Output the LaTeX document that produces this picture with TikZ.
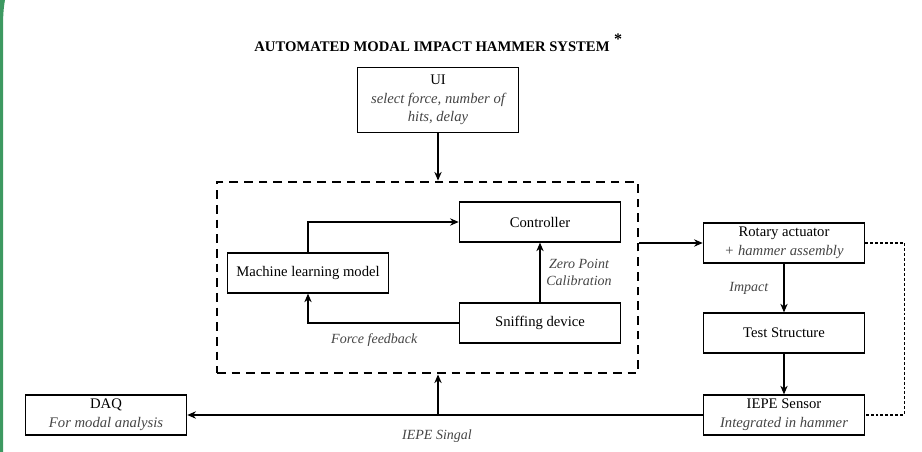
\documentclass[tikz,border=0pt]{standalone}
\usepackage{fontspec}
\setmainfont{Liberation Serif}
\usetikzlibrary{positioning,arrows.meta}
\definecolor{framegreen}{RGB}{61,153,97}
\definecolor{notegray}{RGB}{68,68,68}
\begin{document}
\begin{tikzpicture}[x=0.75pt,y=-0.75pt,
  block/.style={draw,line width=0.9pt,minimum width=121pt,minimum height=30pt,
    inner sep=1pt,align=center,font=\fontsize{11}{14}\selectfont},
  note/.style={font=\fontsize{10.5}{13}\selectfont\itshape,text=notegray,align=center},
  arr/.style={line width=0.9pt,-{Stealth[length=6.5pt,width=5.5pt]}},
  link/.style={line width=0.8pt,dash pattern=on 2.2pt off 1.5pt}]
\useasboundingbox (0,0) rectangle (922,452);

% Frame edge
\fill[framegreen] (0,0) -- (5,0) .. controls (3.5,8) and (3,16) .. (3,30) -- (3,452) -- (0,452) -- cycle;

% Title
\node[font=\fontsize{11}{13}\selectfont\bfseries,inner sep=0pt] (title) at (432,47) {AUTOMATED MODAL IMPACT HAMMER SYSTEM};
\node[font=\fontsize{12}{13}\selectfont\bfseries,anchor=south west,inner sep=0pt,xshift=3pt,yshift=-2pt] (star) at (title.north east) {*};

% User interface
\node[block,minimum height=49pt] (ui) at (438,100) {UI\\\textit{\textcolor{notegray}{select force, number of}}\\\textit{\textcolor{notegray}{hits, delay}}};

% Dashed group
\node[draw,line width=2.2pt,dash pattern=on 6.5pt off 4.5pt,minimum width=315.75pt,minimum height=143.25pt,inner sep=0pt] (core) at (427.5,277.5) {};

% Inner blocks
\node[block] (ctrl) at (540,222) {Controller};
\node[block] (ml) at (308,273) {Machine learning model};
\node[block] (sniff) at (540,323) {Sniffing device};

% Right chain
\node[block] (rot) at (784,243) {Rotary actuator\\\textit{\textcolor{notegray}{+ hammer assembly}}};
\node[block] (test) at (784,333) {Test Structure};
\node[block] (iepe) at (784,415) {IEPE Sensor\\\textit{\textcolor{notegray}{Integrated in hammer}}};

% Acquisition
\node[block] (daq) at (106,415) {DAQ\\\textit{\textcolor{notegray}{For modal analysis}}};

% Connectors
\draw[arr] (ui.south) -- (ui.south |- core.north);
\draw[arr] (ml.north) |- (ctrl.west);
\draw[arr] (sniff.north) -- (ctrl.south) node[midway,right,note,xshift=1pt] {Zero Point\\Calibration};
\draw[arr] (sniff.west) -| (ml.south) node[pos=0.28,below,note,yshift=-4pt] {Force feedback};
\draw[arr] (core.east |- rot.west) -- (rot.west);
\draw[arr] (rot.south) -- (test.north) node[midway,left,note,xshift=-8pt] {Impact};
\draw[arr] (test.south) -- (iepe.north);
\draw[link] (rot.east) -- ++(39,0) |- (iepe.east);
\draw[arr] (iepe.west) -- (daq.east) node[midway,below,note,xshift=-6pt,yshift=-7pt] {IEPE Singal};
\draw[arr] (ui.south |- daq.east) -- (ui.south |- core.south);
\end{tikzpicture}
\end{document}
